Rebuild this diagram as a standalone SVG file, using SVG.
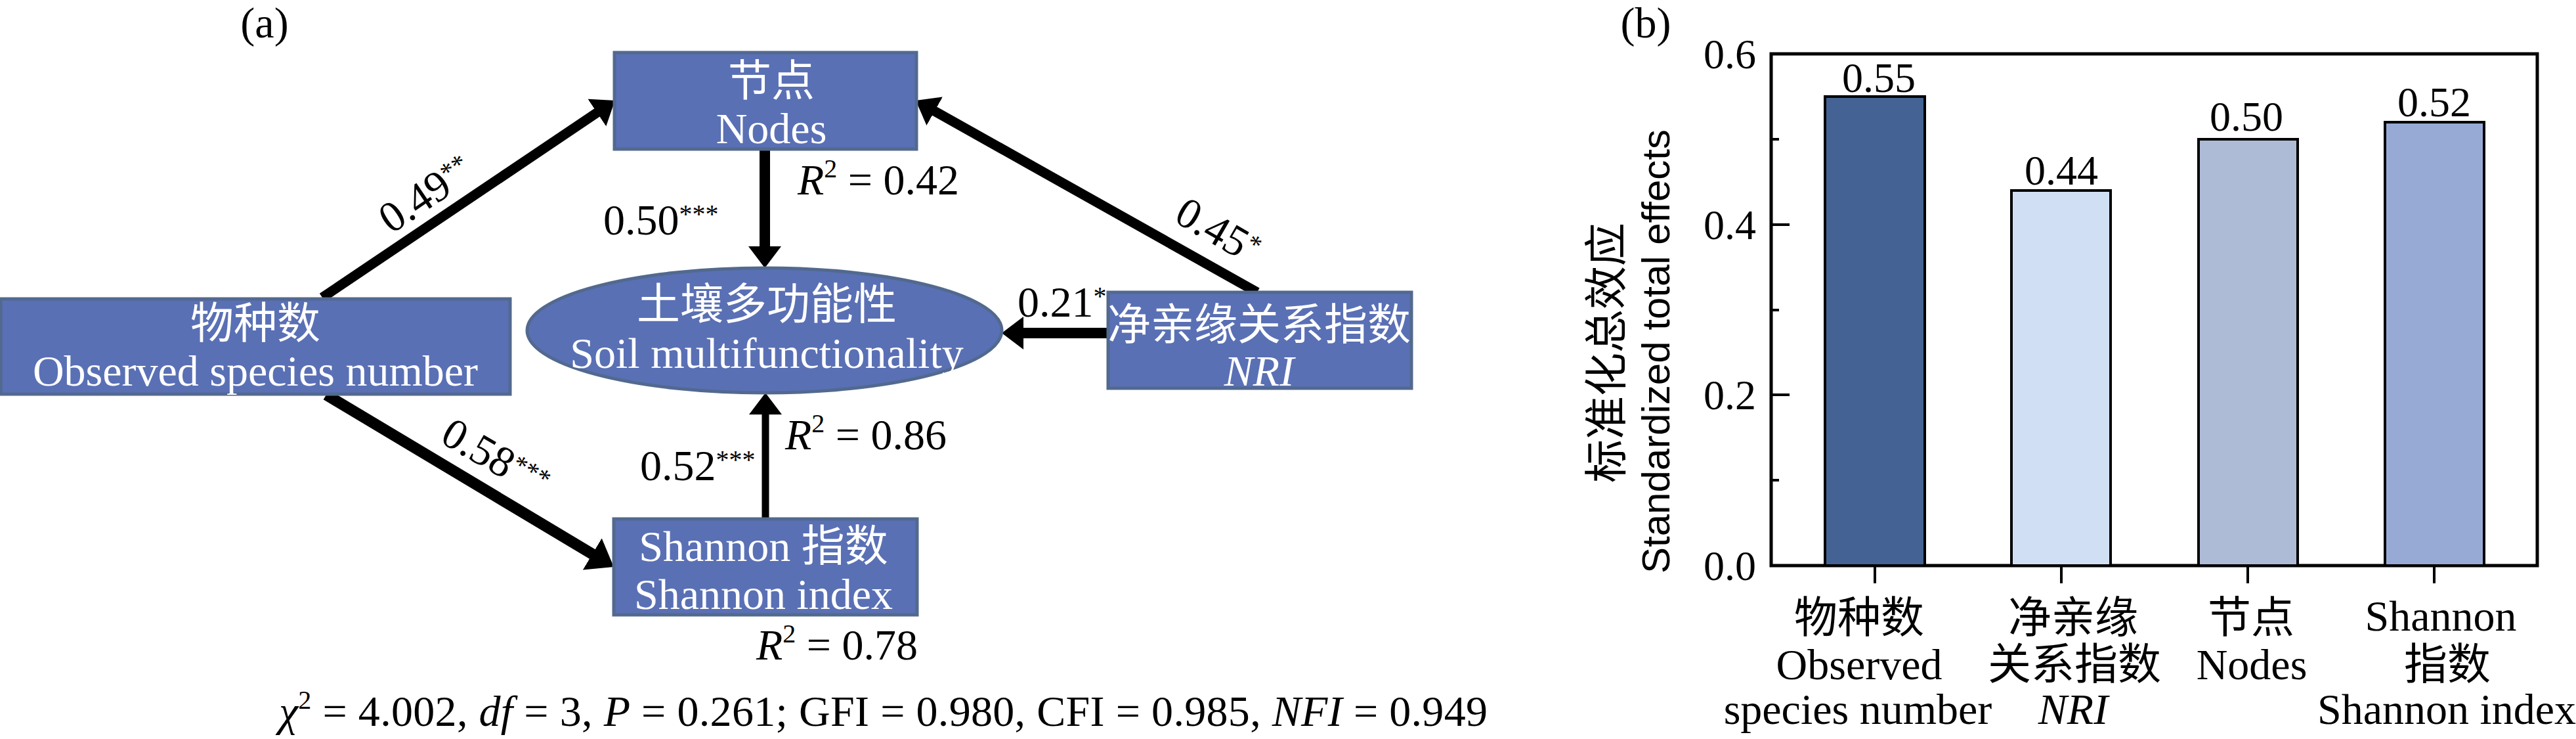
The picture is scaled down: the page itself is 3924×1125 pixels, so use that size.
<svg xmlns="http://www.w3.org/2000/svg" width="3924" height="1125" viewBox="0 0 3924 1125">
<style>
.node{fill:#5A70B5;stroke:#52698F;stroke-width:5}
.nt{font-family:"Liberation Serif","Noto Sans CJK SC",serif;font-size:66px;fill:#fff;text-anchor:middle}
.t{font-family:"Liberation Serif","Noto Sans CJK SC",serif;font-size:66px;fill:#000}
.c{font-family:"Liberation Serif","Noto Sans CJK SC",serif;font-size:66px;fill:#000;text-anchor:middle}
.tk{font-family:"Liberation Serif",serif;font-size:64px;fill:#000;text-anchor:end}
.vl{font-family:"Liberation Serif",serif;font-size:64px;fill:#000;text-anchor:middle}
.ax{font-family:"Liberation Sans",Arial,sans-serif;font-size:60px;fill:#000;text-anchor:middle}
.conn{stroke:#000;fill:none}
.bar{stroke:#000;stroke-width:4}
.tick{stroke:#000;stroke-width:4}
</style>
<defs>
<marker id="ah" markerUnits="userSpaceOnUse" viewBox="0 0 33 50" markerWidth="33" markerHeight="50" refX="2" refY="25" orient="auto"><path d="M0,0 L33,25 L0,50 z" fill="#000"/></marker>
<marker id="ahL" markerUnits="userSpaceOnUse" viewBox="0 0 38 56" markerWidth="38" markerHeight="56" refX="2" refY="28" orient="auto"><path d="M0,0 L38,28 L0,56 z" fill="#000"/></marker>
</defs>
<rect width="3924" height="1125" fill="#fff"/>

<!-- Panel (a) -->
<text class="c" x="403" y="57" font-size="62">(a)</text>

<g id="connectors">
<line class="conn" x1="491" y1="453" x2="911" y2="170.4" stroke-width="15" marker-end="url(#ah)"/>
<line class="conn" x1="497" y1="601" x2="904" y2="844.5" stroke-width="17" marker-end="url(#ahL)"/>
<line class="conn" x1="1165" y1="228" x2="1165" y2="377" stroke-width="16" marker-end="url(#ah)"/>
<line class="conn" x1="1915" y1="445" x2="1422" y2="168.2" stroke-width="15" marker-end="url(#ah)"/>
<line class="conn" x1="1688" y1="507" x2="1557" y2="507" stroke-width="16" marker-end="url(#ah)"/>
<line class="conn" x1="1166" y1="789" x2="1166" y2="629" stroke-width="11" marker-end="url(#ah)"/>
</g>

<g id="node-species">
<rect class="node" x="1" y="455" width="776" height="145"/>
<text class="nt" x="389" y="515">物种数</text>
<text class="nt" x="389" y="587">Observed species number</text>
</g>

<g id="node-nodes">
<rect class="node" x="936" y="80" width="460" height="147"/>
<text class="nt" x="1175" y="146">节点</text>
<text class="nt" x="1175" y="218">Nodes</text>
</g>

<g id="node-smf">
<ellipse class="node" cx="1164.5" cy="503" rx="361.5" ry="95"/>
<text class="nt" x="1168" y="486">土壤多功能性</text>
<text class="nt" x="1168" y="560">Soil multifunctionality</text>
</g>

<g id="node-nri">
<rect class="node" x="1688" y="445" width="462" height="146"/>
<text class="nt" x="1918" y="517">净亲缘关系指数</text>
<text class="nt" x="1918" y="587" font-style="italic">NRI</text>
</g>

<g id="node-shannon">
<rect class="node" x="935" y="790" width="462" height="146"/>
<text class="nt" x="1163" y="854">Shannon 指数</text>
<text class="nt" x="1163" y="927">Shannon index</text>
</g>

<g id="edge-labels">
<text class="t" transform="translate(596,357) rotate(-34)">0.49<tspan font-size="40" dy="-18">**</tspan></text>
<text class="t" transform="translate(1786,336) rotate(30)">0.45<tspan font-size="40" dy="-18">*</tspan></text>
<text class="t" transform="translate(668,672) rotate(30)">0.58<tspan font-size="40" dy="-18">***</tspan></text>
<text class="t" x="919" y="357">0.50<tspan font-size="40" dy="-18">***</tspan></text>
<text class="t" x="1550" y="482">0.21<tspan font-size="40" dy="-18">*</tspan></text>
<text class="t" x="975" y="731">0.52<tspan font-size="40" dy="-18">***</tspan></text>
<text class="t" x="1215" y="296"><tspan font-style="italic">R</tspan><tspan font-size="40" dy="-26">2</tspan><tspan dy="26"> = 0.42</tspan></text>
<text class="t" x="1196" y="684"><tspan font-style="italic">R</tspan><tspan font-size="40" dy="-26">2</tspan><tspan dy="26"> = 0.86</tspan></text>
<text class="t" x="1152" y="1004"><tspan font-style="italic">R</tspan><tspan font-size="40" dy="-26">2</tspan><tspan dy="26"> = 0.78</tspan></text>
<text class="t" x="425" y="1105" textLength="1841" lengthAdjust="spacing"><tspan font-style="italic">χ</tspan><tspan font-size="40" dy="-26">2</tspan><tspan dy="26"> = 4.002, </tspan><tspan font-style="italic">df</tspan> = 3, <tspan font-style="italic">P</tspan> = 0.261; GFI = 0.980, CFI = 0.985, <tspan font-style="italic">NFI</tspan> = 0.949</text>
</g>

<!-- Panel (b) -->
<g id="chart">
<text class="c" x="2507" y="57" font-size="62">(b)</text>
<rect x="2698" y="82" width="1167" height="779" fill="none" stroke="#000" stroke-width="5"/>
<line class="tick" x1="2698" y1="212" x2="2710" y2="212"/>
<line class="tick" x1="2698" y1="342" x2="2726" y2="342"/>
<line class="tick" x1="2698" y1="472" x2="2710" y2="472"/>
<line class="tick" x1="2698" y1="601" x2="2726" y2="601"/>
<line class="tick" x1="2698" y1="731" x2="2710" y2="731"/>
<text class="tk" x="2675" y="104">0.6</text>
<text class="tk" x="2675" y="364">0.4</text>
<text class="tk" x="2675" y="623">0.2</text>
<text class="tk" x="2675" y="883">0.0</text>
<line class="tick" x1="2856" y1="861" x2="2856" y2="888"/>
<line class="tick" x1="3140" y1="861" x2="3140" y2="888"/>
<line class="tick" x1="3424" y1="861" x2="3424" y2="888"/>
<line class="tick" x1="3708" y1="861" x2="3708" y2="888"/>
<rect class="bar" x="2780" y="147" width="152" height="714" fill="#446394"/>
<rect class="bar" x="3064" y="290" width="151" height="571" fill="#D0DFF4"/>
<rect class="bar" x="3349" y="212" width="151" height="649" fill="#ADBBD7"/>
<rect class="bar" x="3633" y="186" width="151" height="675" fill="#97AAD6"/>
<text class="vl" x="2862" y="140">0.55</text>
<text class="vl" x="3140" y="281">0.44</text>
<text class="vl" x="3422" y="199">0.50</text>
<text class="vl" x="3708" y="177">0.52</text>
<text class="c" x="2832" y="963">物种数</text>
<text class="c" x="2832" y="1034">Observed</text>
<text class="c" x="2830" y="1102">species number</text>
<text class="c" x="3158" y="963">净亲缘</text>
<text class="c" x="3160" y="1034">关系指数</text>
<text class="c" x="3158" y="1102" font-style="italic">NRI</text>
<text class="c" x="3429" y="963">节点</text>
<text class="c" x="3430" y="1034">Nodes</text>
<text class="c" x="3718" y="960">Shannon</text>
<text class="c" x="3728" y="1034">指数</text>
<text class="c" x="3727" y="1102">Shannon index</text>
<text class="c" transform="translate(2470,537) rotate(-90)">标准化总效应</text>
<text class="ax" transform="translate(2543,535) rotate(-90)">Standardized total effects</text>
</g>
</svg>
